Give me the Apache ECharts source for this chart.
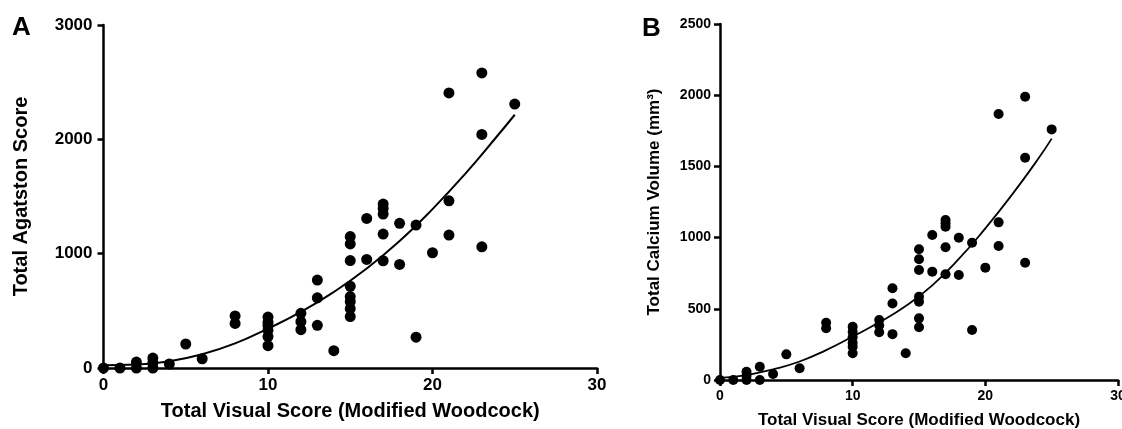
<!DOCTYPE html>
<html>
<head>
<meta charset="utf-8">
<script src="https://cdn.jsdelivr.net/npm/echarts@6/dist/echarts.min.js"></script>
<style>
html,body{margin:0;padding:0;background:#fff;}
#c{width:1122px;height:429px;}
</style>
</head>
<body>
<div id="c"></div>
<script>
// Panel A: Total Visual Score vs Total Agatston Score
const pointsA = [
  [0,0],[1,0],[2,0],[2,52],[3,0],[3,44],[3,87],[4,35],[5,210],[6,81],[8,390],[8,455],
  [10,195],[10,275],[10,330],[10,370],[10,400],[10,445],
  [12,335],[12,405],[12,478],
  [13,373],[13,614],[13,769],
  [14,151],
  [15,450],[15,520],[15,580],[15,625],[15,715],[15,940],[15,1085],[15,1150],
  [16,950],[16,1308],
  [17,938],[17,1171],[17,1346],[17,1396],[17,1434],
  [18,906],[18,1265],
  [19,270],[19,1250],
  [20,1008],
  [21,1163],[21,1462],[21,2406],
  [23,1060],[23,2043],[23,2581],
  [25,2308]
];
const curveA = [
  [0,25],[2,30],[4,60],[6,120],[8,215],[10,345],[12,490],[14,665],[16,870],
  [18,1110],[20,1390],[22,1700],[24,2040],[25,2215]
];
// Panel B: Total Visual Score vs Total Calcium Volume
const pointsB = [
  [0,0],[1,0],[2,0],[2,30],[2,58],[3,0],[3,93],[4,42],[5,180],[6,82],[8,363],[8,402],
  [10,188],[10,234],[10,262],[10,300],[10,339],[10,374],
  [12,335],[12,383],[12,421],
  [13,322],[13,537],[13,644],
  [14,188],
  [15,370],[15,433],[15,550],[15,585],[15,772],[15,848],[15,918],
  [16,761],[16,1018],
  [17,742],[17,932],[17,1077],[17,1100],[17,1124],
  [18,737],[18,999],
  [19,351],[19,964],
  [20,789],
  [21,941],[21,1107],[21,1868],
  [23,824],[23,1561],[23,1989],
  [25,1760]
];
const curveB = [
  [0,15],[2,35],[4,75],[6,130],[8,210],[10,305],[12,405],[14,520],[16,665],
  [18,850],[20,1065],[22,1300],[24,1555],[25,1695]
];
const xTicks = [0,10,20,30];
const xTitle = 'Total Visual Score (Modified Woodcock)';
const yTitleA = 'Total Agatston Score';
const yTitleB = 'Total Calcium Volume (mm³)';

const FONT = '"Liberation Sans", Arial, sans-serif';
const plain = v => String(v);
function xAxis(gridIndex, fs, nameFs, gap) {
  return {
    gridIndex, type:'value', min:0, max:30, interval:10,
    name: xTitle, nameLocation:'middle', nameGap:gap,
    nameTextStyle:{fontFamily:FONT, fontWeight:'bold', fontSize:nameFs, color:'#000'},
    axisLine:{show:true, onZero:false, lineStyle:{color:'#000', width:2.5}},
    axisTick:{show:true, length:6, lineStyle:{color:'#000', width:2.5}},
    axisLabel:{fontFamily:FONT, fontWeight:'bold', fontSize:fs, color:'#000', margin:9, formatter:plain},
    splitLine:{show:false}
  };
}
function yAxis(gridIndex, max, interval, fs, nameFs, gap, name, margin) {
  return {
    gridIndex, type:'value', min:0, max, interval,
    name, nameLocation:'middle', nameGap:gap, nameRotate:90,
    nameTextStyle:{fontFamily:FONT, fontWeight:'bold', fontSize:nameFs, color:'#000'},
    axisLine:{show:true, onZero:false, lineStyle:{color:'#000', width:2.5}},
    axisTick:{show:true, length:6, lineStyle:{color:'#000', width:2.5}},
    axisLabel:{fontFamily:FONT, fontWeight:'bold', fontSize:fs, color:'#000', margin, formatter:plain},
    splitLine:{show:false}
  };
}
const chart = echarts.init(document.getElementById('c'), null, {renderer:'canvas'});
chart.setOption({
  backgroundColor:'#fff',
  animation:false,
  grid:[
    {left:103.5, top:25, width:493.5, height:343, containLabel:false, outerBoundsMode:'none'},
    {left:720, top:24, width:398, height:356, containLabel:false, outerBoundsMode:'none'}
  ],
  xAxis:[ xAxis(0, 17, 20, 33), xAxis(1, 14, 17, 32) ],
  yAxis:[
    yAxis(0, 3000, 1000, 17, 20, 72, yTitleA, 11),
    yAxis(1, 2500, 500, 14, 17, 57, yTitleB, 9)
  ],
  graphic:[
    {type:'text', left:12, top:15, style:{text:'A', font:'bold 26px "Liberation Sans", Arial', fill:'#000'}},
    {type:'text', left:642, top:16, style:{text:'B', font:'bold 26px "Liberation Sans", Arial', fill:'#000'}}
  ],
  series:[
    {type:'scatter', xAxisIndex:0, yAxisIndex:0, data:pointsA, symbol:'circle', symbolSize:11,
     itemStyle:{color:'#000', opacity:1}, z:3},
    {type:'line', xAxisIndex:0, yAxisIndex:0, data:curveA, smooth:true, showSymbol:false, symbol:'none',
     lineStyle:{color:'#000', width:2}, z:2},
    {type:'scatter', xAxisIndex:1, yAxisIndex:1, data:pointsB, symbol:'circle', symbolSize:10,
     itemStyle:{color:'#000', opacity:1}, z:3},
    {type:'line', xAxisIndex:1, yAxisIndex:1, data:curveB, smooth:true, showSymbol:false, symbol:'none',
     lineStyle:{color:'#000', width:1.8}, z:2}
  ]
});
</script>
</body>
</html>
